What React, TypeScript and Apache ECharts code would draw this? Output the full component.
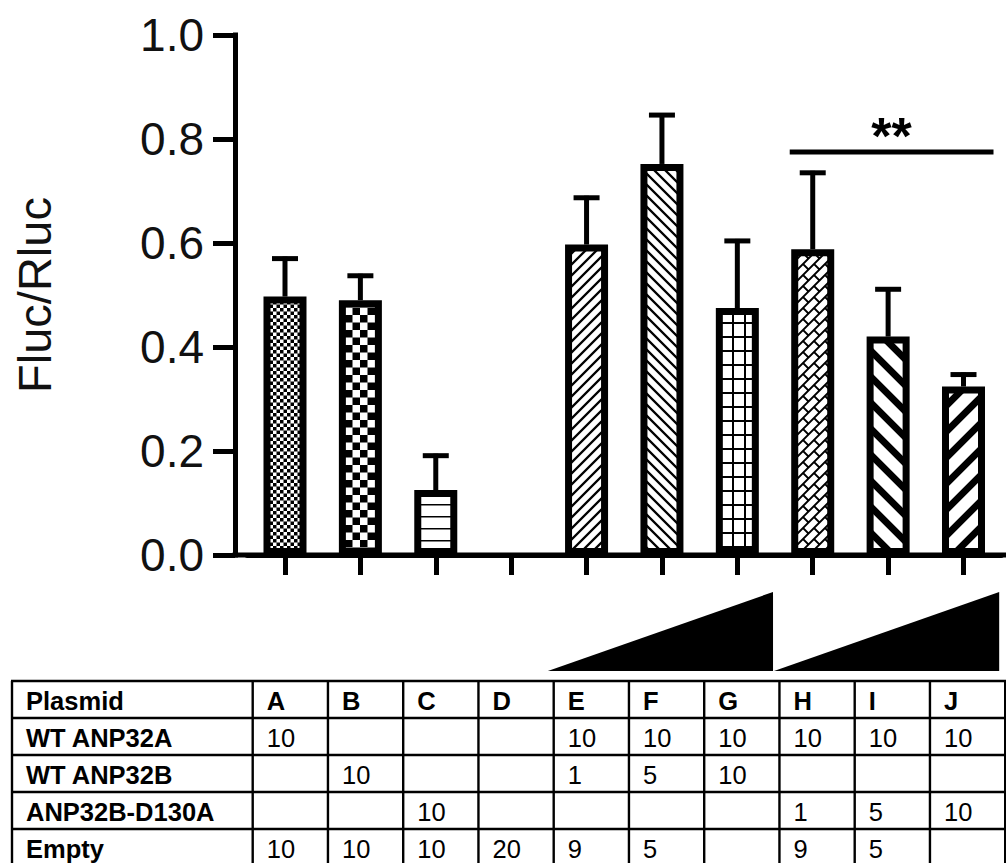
import React, { useEffect, useRef } from 'react';
import * as echarts from 'echarts';

// ---------------- data ----------------
const categories = ['A', 'B', 'C', 'D', 'E', 'F', 'G', 'H', 'I', 'J'];
const means = [0.497, 0.49, 0.125, 0, 0.597, 0.752, 0.475, 0.588, 0.42, 0.324];
const errUpper = [0.073, 0.047, 0.066, 0, 0.09, 0.094, 0.129, 0.147, 0.091, 0.023];
const yMin = 0;
const yMax = 1;
const yStep = 0.2;
const yTitle = 'Fluc/Rluc';

// significance bracket: from category index to category index, at level
const sigFrom = 7;
const sigTo = 9;
const sigLevel = 0.775;
const sigLabel = '**';

// dose ramps (first, last category index)
const rampGroups = [
  [4, 6],
  [7, 9],
];

// table
const tableHeader = ['Plasmid', ...categories];
const rowLabels = ['WT ANP32A', 'WT ANP32B', 'ANP32B-D130A', 'Empty'];
const rowWtA = [10, null, null, null, 10, 10, 10, 10, 10, 10];
const rowWtB = [null, 10, null, null, 1, 5, 10, null, null, null];
const rowMut = [null, null, 10, null, null, null, null, 1, 5, 10];
const rowEmpty = [10, 10, 10, 20, 9, 5, null, 9, 5, null];
const tableRows = [rowWtA, rowWtB, rowMut, rowEmpty];

// ---------------- layout / style ----------------
const W = 1006;
const H = 863;
const FONT = "'Liberation Sans', Arial, Helvetica, sans-serif";
const gridLeft = 247.3;
const gridTop = 35;
const gridWidth = 753.9;
const gridHeight = 520;
const yAxisOffset = 12.3;
const AXIS_W = 5;
const BAR_W = 43;
const BAR_BORDER = 7;

const rampTop = 592;
const rampBottom = 671;

const tableLeft = 12;
const firstColRight = 252.7;
const colW = 75.25;
const tableTop = 681;
const rowH = 37;
const cellPad = 14;
const TABLE_FONT = 25.5;

// ---------------- patterns ----------------
type Ink = (x: number, y: number) => boolean;
const mod = (a: number, n: number) => ((a % n) + n) % n;

function tile(w: number, h: number, ink: Ink) {
  const c = document.createElement('canvas');
  c.width = w;
  c.height = h;
  const ctx = c.getContext('2d')!;
  const img = ctx.createImageData(w, h);
  const ss = 4;
  for (let y = 0; y < h; y++) {
    for (let x = 0; x < w; x++) {
      let n = 0;
      for (let j = 0; j < ss; j++)
        for (let i = 0; i < ss; i++) if (ink(x + (i + 0.5) / ss, y + (j + 0.5) / ss)) n++;
      const v = Math.round(255 * (1 - n / (ss * ss)));
      const o = (y * w + x) * 4;
      img.data[o] = v;
      img.data[o + 1] = v;
      img.data[o + 2] = v;
      img.data[o + 3] = 255;
    }
  }
  ctx.putImageData(img, 0, 0);
  return { image: c.toDataURL(), repeat: 'repeat', imageWidth: w, imageHeight: h };
}

const checker = (cell: number) =>
  tile(Math.round(2 * cell), Math.round(2 * cell), (x, y) => (Math.floor(x / cell) + Math.floor(y / cell)) % 2 === 0);
const hLines = (p: number, t: number) => tile(4, p, (_x, y) => mod(y, p) < t);
const diag = (p: number, t: number, up: boolean) =>
  tile(p, p, (x, y) => {
    const d = mod(up ? x + y : x - y, p);
    return Math.min(d, p - d) < t * Math.SQRT1_2;
  });
const grid = (wc: number, hc: number, t: number) => tile(wc, hc, (x, y) => mod(x, wc) < t || mod(y, hc) < t);
const brick = (s: number, t: number) => {
  const L = 2 * s;
  return tile(L, L, (x, y) => {
    const a = x + y;
    const b = x - y;
    const k = Math.floor(a / s);
    const d1 = a - k * s;
    if (Math.min(d1, s - d1) < t * Math.SQRT1_2) return true;
    const off = mod(k, 2) * (L / 2);
    const d2 = mod(b - off, L);
    return Math.min(d2, L - d2) < t * Math.SQRT1_2;
  });
};

function buildPatterns() {
  return [
    checker(3.5),
    checker(7.5),
    hLines(12, 1.6),
    null,
    diag(11, 2.2, true),
    diag(11, 2.2, false),
    grid(12, 14, 2),
    brick(11, 2),
    diag(26, 7, false),
    diag(26, 7, true),
  ];
}

export default function App() {
  const ref = useRef<HTMLDivElement>(null);

  useEffect(() => {
    const el = ref.current!;
    const chart = echarts.init(el, null, { renderer: 'svg', width: W, height: H });
    const patterns = buildPatterns();

    const barData = means.map((v, i) =>
      v === 0 || !patterns[i]
        ? { value: v, itemStyle: { borderWidth: 0, color: 'rgba(0,0,0,0)' } }
        : { value: v, itemStyle: { color: patterns[i] } }
    );
    const errData = means.map((m, i) => [i, m, errUpper[i]]);

    const option: any = {
      animation: false,
      backgroundColor: '#fff',
      grid: {
        left: gridLeft,
        top: gridTop,
        width: gridWidth,
        height: gridHeight,
        containLabel: false,
        outerBoundsMode: 'none',
      },
      xAxis: {
        type: 'category',
        data: categories,
        boundaryGap: true,
        axisLine: { show: true, lineStyle: { color: '#000', width: AXIS_W } },
        axisTick: { show: true, alignWithLabel: true, length: 20, lineStyle: { color: '#000', width: AXIS_W } },
        axisLabel: { show: false },
        splitLine: { show: false },
      },
      yAxis: {
        type: 'value',
        min: yMin,
        max: yMax,
        interval: yStep,
        offset: yAxisOffset,
        name: yTitle,
        nameLocation: 'middle',
        nameRotate: 90,
        nameGap: 177,
        nameMoveOverlap: false,
        nameTextStyle: { fontFamily: FONT, fontSize: 47, color: '#111' },
        axisLine: { show: true, lineStyle: { color: '#000', width: AXIS_W, cap: 'square' } },
        axisTick: { show: true, length: 22, lineStyle: { color: '#000', width: AXIS_W } },
        axisLabel: {
          show: true,
          margin: 31,
          fontFamily: FONT,
          fontSize: 46,
          color: '#111',
          formatter: (v: number) => v.toFixed(1),
        },
        splitLine: { show: false },
      },
      series: [
        {
          type: 'bar',
          data: barData,
          barWidth: BAR_W,
          itemStyle: { borderColor: '#000', borderWidth: BAR_BORDER },
          z: 2,
        },
        {
          type: 'custom',
          coordinateSystem: 'cartesian2d',
          encode: { x: 0, y: 1 },
          data: errData,
          z: 3,
          renderItem: (_params: any, api: any) => {
            const x = api.value(0);
            const m = api.value(1);
            const e = api.value(2);
            if (!e) return null;
            const base = api.coord([x, m]);
            const top = api.coord([x, m + e]);
            return {
              type: 'group',
              children: [
                {
                  type: 'line',
                  shape: { x1: base[0], y1: base[1], x2: top[0], y2: top[1] - 2 },
                  style: { stroke: '#000', lineWidth: 5 },
                },
                {
                  type: 'line',
                  shape: { x1: top[0] - 13, y1: top[1], x2: top[0] + 13, y2: top[1] },
                  style: { stroke: '#000', lineWidth: 5 },
                },
              ],
            };
          },
        },
        {
          type: 'custom',
          coordinateSystem: 'cartesian2d',
          encode: { x: 0, y: 2 },
          data: [[sigFrom, sigTo, sigLevel]],
          z: 3,
          renderItem: (_params: any, api: any) => {
            const p1 = api.coord([api.value(0), api.value(2)]);
            const p2 = api.coord([api.value(1), api.value(2)]);
            const x1 = p1[0] - 23;
            const x2 = p2[0] + 30;
            return {
              type: 'group',
              children: [
                {
                  type: 'line',
                  shape: { x1, y1: p1[1], x2, y2: p2[1] },
                  style: { stroke: '#000', lineWidth: 5 },
                },
                {
                  type: 'text',
                  style: {
                    text: sigLabel,
                    x: (x1 + x2) / 2,
                    y: p1[1] - 16,
                    align: 'center',
                    verticalAlign: 'middle',
                    fontFamily: FONT,
                    fontSize: 52,
                    fontWeight: 'bold',
                    fill: '#000',
                  },
                },
              ],
            };
          },
        },
      ],
    };
    chart.setOption(option);

    // ---- graphics derived from the axes ----
    const y0 = chart.convertToPixel({ yAxisIndex: 0 }, yMin) as number;
    const cx = (i: number) => chart.convertToPixel({ xAxisIndex: 0 }, categories[i]) as number;
    const band = (cx(categories.length - 1) - cx(0)) / (categories.length - 1);
    const axisX = gridLeft - yAxisOffset;

    const graphics: any[] = [];
    // extend x axis line to y axis and right edge
    graphics.push({
      type: 'line',
      shape: { x1: axisX - AXIS_W / 2, y1: y0, x2: W, y2: y0 },
      style: { stroke: '#000', lineWidth: AXIS_W },
      z: 10,
    });
    // dose ramps
    rampGroups.forEach(([a, b]) => {
      const left = cx(a) - band / 2 - 1;
      const right = cx(b) + band / 2 - 2;
      graphics.push({
        type: 'polygon',
        shape: {
          points: [
            [left, rampBottom],
            [right, rampTop],
            [right, rampBottom],
          ],
        },
        style: { fill: '#000' },
      });
    });

    // table
    const colEdges = [tableLeft, ...Array.from({ length: categories.length + 1 }, (_, k) => firstColRight + k * colW)];
    const nRows = tableRows.length + 1;
    const rowEdges = Array.from({ length: nRows + 1 }, (_, r) => tableTop + r * rowH);
    const tLeft = colEdges[0];
    const tRight = colEdges[colEdges.length - 1];
    rowEdges.forEach((ry) =>
      graphics.push({
        type: 'line',
        shape: { x1: tLeft - 1, y1: ry, x2: tRight + 1, y2: ry },
        style: { stroke: '#000', lineWidth: 2.4 },
      })
    );
    colEdges.forEach((cxv) =>
      graphics.push({
        type: 'line',
        shape: { x1: cxv, y1: rowEdges[0], x2: cxv, y2: rowEdges[rowEdges.length - 1] },
        style: { stroke: '#000', lineWidth: 2.4 },
      })
    );
    const cellText = (text: string, col: number, row: number, bold: boolean) => ({
      type: 'text',
      x: colEdges[col] + cellPad,
      y: tableTop + row * rowH + rowH / 2 + 1,
      style: {
        text,
        fontFamily: FONT,
        fontSize: TABLE_FONT,
        fontWeight: bold ? 'bold' : 'normal',
        fill: '#000',
        align: 'left',
        verticalAlign: 'middle',
      },
    });
    tableHeader.forEach((h, c) => graphics.push(cellText(h, c, 0, true)));
    tableRows.forEach((row, r) => {
      graphics.push(cellText(rowLabels[r], 0, r + 1, true));
      row.forEach((v, c) => {
        if (v !== null && v !== undefined) graphics.push(cellText(String(v), c + 1, r + 1, false));
      });
    });

    chart.setOption({ graphic: graphics });

    return () => chart.dispose();
  }, []);

  return (
    <div
      ref={ref}
      style={{ position: 'fixed', left: 0, top: 0, width: W, height: H, background: '#fff' }}
    />
  );
}
